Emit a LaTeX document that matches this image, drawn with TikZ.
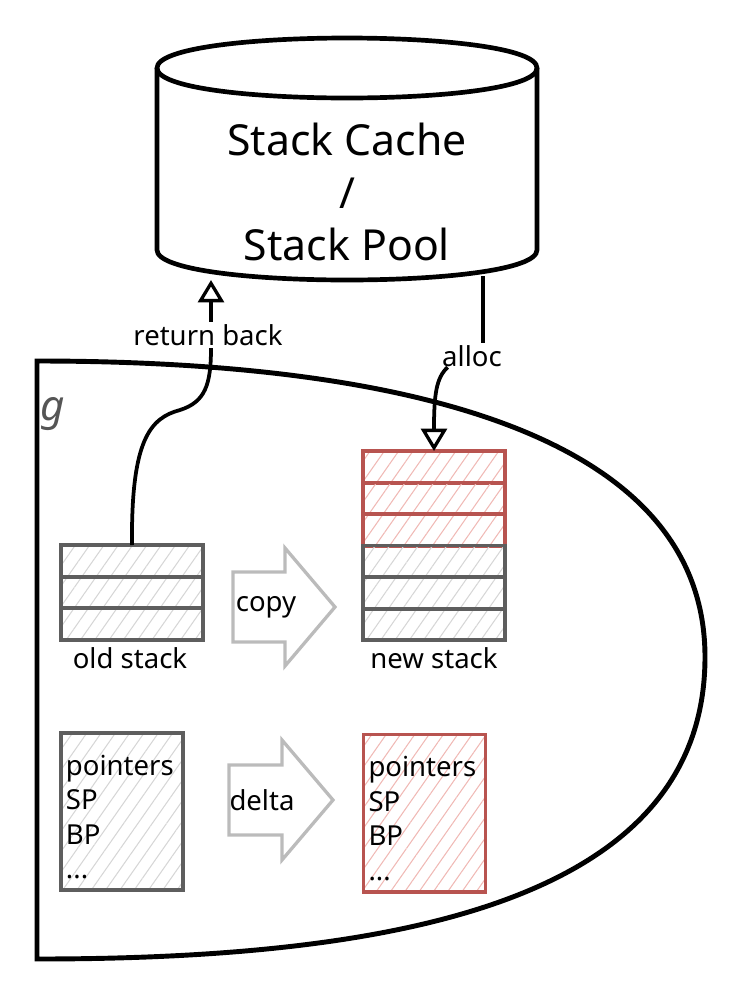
\documentclass[tikz,border=0pt]{standalone}
\usepackage{fontspec}
\setmainfont{Noto Sans}
\usetikzlibrary{patterns.meta,arrows.meta,calc}
\definecolor{sgray}{HTML}{5E5E5E}
\definecolor{sred}{HTML}{B85450}
\definecolor{hgray}{HTML}{D6D6D6}
\definecolor{hred}{HTML}{F0B9B5}
\definecolor{agray}{HTML}{BBBBBB}
\definecolor{ggray}{HTML}{555555}
\begin{document}
\begin{tikzpicture}[x=0.03cm,y=-0.03cm,
  cellg/.style={draw=sgray, line width=3.4pt, minimum width=4.26cm, minimum height=0.945cm,
    inner sep=0pt, outer sep=0pt,
    pattern={Lines[angle=55,distance=10pt,line width=0.9pt]}, pattern color=hgray},
  cellr/.style={cellg, draw=sred, pattern color=hred},
  lbl/.style={font=\fontsize{23.5}{28}\selectfont, inner sep=2pt},
  ptrg/.style={draw=sgray, line width=3.4pt, inner xsep=0.15cm, inner ysep=0pt, outer sep=0pt,
    align=left, text width=3.36cm, minimum height=4.71cm,
    font=\fontsize{23.5}{29.5}\selectfont,
    pattern={Lines[angle=55,distance=10pt,line width=0.9pt]}, pattern color=hgray},
  ptrr/.style={ptrg, draw=sred, pattern color=hred},
  conn/.style={line width=3.2pt, draw=black},
  tip/.style={-{Triangle[open,length=19pt,width=22pt,line width=2.8pt]}},
  bigarrow/.style={draw=agray, line width=2.8pt, line join=miter},
  heavy/.style={line width=4pt, draw=black}
]
\useasboundingbox (0,0) rectangle (746,1000);

% g region
\draw[line width=4.2pt, line join=miter] (37,959) -- (37,361)
  .. controls (420,361) and (705,440) .. (705,657)
  .. controls (705,900) and (400,959) .. (37,959) -- cycle;
\node[font=\fontsize{36}{36}\selectfont\itshape, text=ggray] (g) at (53,414) {g};

% cylinder
\draw[heavy] (157,68) -- (157,250) .. controls (157,290) and (537,290) .. (537,250) -- (537,68);
\draw[heavy] (157,68) .. controls (157,28) and (537,28) .. (537,68)
  .. controls (537,108) and (157,108) .. (157,68) -- cycle;
\node[font=\fontsize{36.5}{45}\selectfont, align=center] (cache) at (347,192) {Stack Cache\\/\\Stack Pool};
\coordinate (retTip) at (211,280);
\coordinate (allocTop) at (483,276);

% old stack
\node[cellg] (o1) at (132,560.75) {};
\node[cellg] (o2) at (132,592.25) {};
\node[cellg] (o3) at (132,623.75) {};
\node[lbl] (oldl) at (130,658) {old stack};

% new stack
\node[cellr] (n1) at (434,466.75) {};
\node[cellr] (n2) at (434,498.25) {};
\node[cellr] (n3) at (434,529.75) {};
\node[cellg] (n4) at (434,561.25) {};
\node[cellg] (n5) at (434,592.75) {};
\node[cellg] (n6) at (434,624.25) {};
\node[lbl] (newl) at (434,658) {new stack};

% copy arrow
\draw[bigarrow] (233,572) -- (285,572) -- (285,548) -- (335,607) -- (285,666) -- (285,642) -- (233,642) -- cycle;
\node[lbl] (cp) at (266,607) {copy};

% pointer boxes
\node[ptrg] (op) at (122,811.5) {\rule{0pt}{27pt}pointers\\SP\\BP\\...};
\node[ptrr] (np) at (424.5,813) {\rule{0pt}{27pt}pointers\\SP\\BP\\...};

% delta arrow
\draw[bigarrow] (229,765) -- (282,765) -- (282,740) -- (333,800) -- (282,860) -- (282,835) -- (229,835) -- cycle;
\node[lbl] (dl) at (262,800) {delta};

% return back connector
\node[lbl] (rb) at (208,335) {return back};
\draw[conn] (o1.north) .. controls (131,440) and (150,418) .. (180,410)
  .. controls (205,402) and (211,385) .. (retTip |- rb.south);
\draw[conn, tip] (retTip |- rb.north) -- (retTip);

% alloc connector
\node[lbl] (al) at (472,356) {alloc};
\draw[conn] (allocTop) -- (allocTop |- al.north);
\draw[conn, tip] ($(al.south west)+(8,-2)$) .. controls (436,378) and (434,395) .. (n1.north);
\end{tikzpicture}
\end{document}
